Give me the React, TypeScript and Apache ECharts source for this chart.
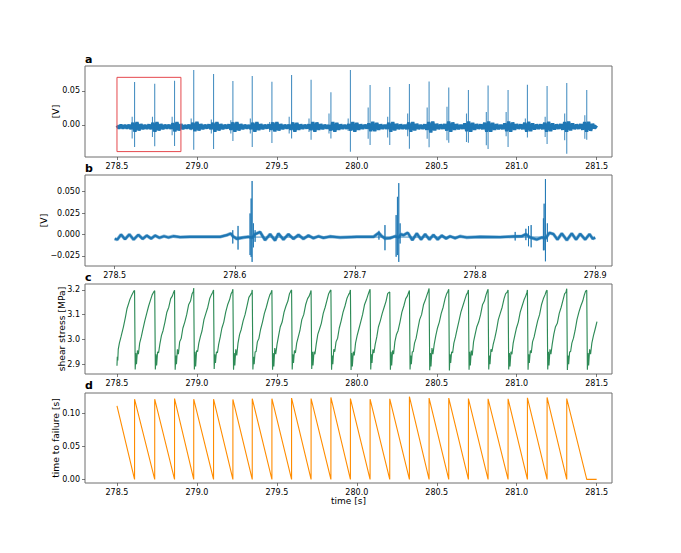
import React, { useEffect, useRef } from "react";
import * as echarts from "echarts";

const xTicksLong = [278.5, 279.0, 279.5, 280.0, 280.5, 281.0, 281.5];
const xTicksShort = [278.5, 278.6, 278.7, 278.8, 278.9];
const yTicksA = [0, 0.05];
const yTicksB = [-0.025, 0, 0.025, 0.05];
const yTicksC = [2.9, 3.0, 3.1, 3.2];
const yTicksD = [0, 0.05, 0.1];

// failure events (all times in seconds)
const eventTimes = [278.61, 278.736, 278.86, 278.98, 279.104, 279.225, 279.346, 279.469, 279.592, 279.714, 279.838, 279.96, 280.083, 280.206, 280.329, 280.452, 280.575, 280.698, 280.821, 280.946, 281.067, 281.19, 281.313, 281.438];

// panel a: acoustic signal
const aPeakHigh = [0.0627, 0.0603, 0.0647, 0.0804, 0.0745, 0.0642, 0.0716, 0.0632, 0.073, 0.0662, 0.048, 0.0804, 0.0583, 0.0554, 0.0598, 0.0637, 0.0549, 0.051, 0.0578, 0.051, 0.0588, 0.0569, 0.0613, 0.051];
const aPeakLow = [-0.0324, -0.0314, -0.0309, -0.0363, -0.0353, -0.0235, -0.0324, -0.0265, -0.02, -0.0216, -0.02, -0.0392, -0.0294, -0.0294, -0.0348, -0.0328, -0.026, -0.026, -0.0353, -0.0324, -0.0186, -0.028, -0.0422, -0.0216];
const aPreHigh = [0.0118, 0.0118, 0.0118, 0.0093, 0.0078, 0.0069, 0.0093, 0.0044, 0.0118, 0.0093, 0.0167, 0.0093, 0.0255, 0.0118, 0.0167, 0.0255, 0.0265, 0.0167, 0.0191, 0.0191, 0.0093, 0.0118, 0.0167, 0.0142];
const aPreLow = [-0.02, -0.0176, -0.0152, -0.0078, -0.0127, -0.0127, -0.0127, -0.0103, -0.0127, -0.0103, -0.0127, -0.0088, -0.0201, -0.0186, -0.0167, -0.0201, -0.0225, -0.0250, -0.0299, -0.0167, -0.0078, -0.0176, -0.0225, -0.0201];
const aPreLead = [0.015, 0.014, 0.015, 0.016, 0.014, 0.013, 0.012, 0.014, 0.015, 0.013, 0.012, 0.014, 0.012, 0.013, 0.011, 0.012, 0.011, 0.012, 0.011, 0.012, 0.013, 0.012, 0.013, 0.012];
const signalStart = 278.5;
const signalStep = 0.0125;
const aSignalMilliVolt = [
  -1, -5, 0, -5, -0.5, -5, 0, -6, 3, -10,
  4, -8, 1, -6, 0, -5.5, 0.5, -6, 3, -10,
  4, -8, 1, -6, 0, -5, 0, -5.5, 2.5, -9.5,
  4, -8, 1, -6, -0.5, -5, 0, -6, 3, -9,
  4.5, -8, 1, -6, 0, -5, 0.5, -6, 3, -10,
  4, -8, 1, -6, 0, -5, 0.5, -7, 3.5, -10,
  4, -8, 1, -6, 0, -5, -0.5, -6, 3, -10,
  4, -7.5, 1, -6, 0, -5, 0.5, -7, 3.5, -9.5,
  4, -8, 1, -6, 0, -5, 0, -7, 3.5, -10,
  3, -7, 0.5, -5.5, 0, -5, 0.5, -7.5, 4, -10,
  3.5, -7, 1, -6, 0, -5, -0.5, -8, 4, -10,
  3, -7, 0.5, -5.5, 0, -5.5, 1, -8, 4, -10,
  3, -7, 0.5, -5.5, 0, -5, 2, -9, 4.5, -9,
  3, -7, 0.5, -5.5, 0, -5.5, 3, -10, 4, -8,
  1.5, -6, 0.5, -5.5, 0, -6, 3.5, -10, 4, -8,
  1.5, -6, 0, -5.5, 0.5, -7, 4, -11, 5, -8,
  1.5, -6, 0.5, -5.5, 1, -8, 5, -10, 3.5, -7,
  1, -6, 0, -5.5, 2, -9, 5, -10, 3, -7,
  1, -5.5, 0.5, -6, 3, -10, 5, -10, 3, -7,
  1, -6, 0, -6, 2, -9, 5, -10, 3.5, -7,
  1, -5.5, 0.5, -6, 3, -10, 4.5, -9, 2, -6.5,
  0.5, -5.5, 0.5, -6, 3, -10, 4.5, -9, 2, -6.5,
  0.5, -5.5, 1, -7, 4, -10, 5, -8, 2, -6,
  0.5, -5.5, 1, -7, 4, -10, 4.5, -8.5, 1.5, -5,
  -1,
];
const boxTimes = [278.5, 278.9, 278.9, 278.5, 278.5];
const boxValues = [0.0697, 0.0697, -0.0391, -0.0391, 0.0697];

// panel b: close-up of the signal
const bTimes = [278.5, 278.5022, 278.5053, 278.5086, 278.5122, 278.5158, 278.5197, 278.5233, 278.5267, 278.5303, 278.5336, 278.5372, 278.5411, 278.5447, 278.5489, 278.5544, 278.5627, 278.5766, 278.5877, 278.5933, 278.5966, 278.5983, 278.6016, 278.6072, 278.6113, 278.6144, 278.6169, 278.621, 278.6252, 278.6294, 278.6335, 278.6363, 278.6405, 278.6446, 278.6488, 278.653, 278.6571, 278.6613, 278.6655, 278.6696, 278.6738, 278.6793, 278.6877, 278.7016, 278.7154, 278.7198, 278.7223, 278.7251, 278.7292, 278.7334, 278.7365, 278.7384, 278.7403, 278.744, 278.7478, 278.7515, 278.7551, 278.7584, 278.762, 278.7653, 278.7689, 278.7723, 278.7759, 278.7792, 278.7834, 278.7875, 278.7931, 278.8042, 278.8209, 278.832, 278.8389, 278.8422, 278.8458, 278.8514, 278.8556, 278.8586, 278.8619, 278.8653, 278.8686, 278.8722, 278.8764, 278.8805, 278.8841, 278.8875, 278.8917, 278.8953, 278.898, 278.9];
const bValues = [-0.005, -0.0059, -0.0001, -0.0055, 0.0001, -0.0059, -0.0004, -0.0051, -0.0012, -0.0047, -0.0012, -0.0039, -0.002, -0.0035, -0.002, -0.0031, -0.0027, -0.0027, -0.0027, -0.0008, 0.0012, -0.002, -0.0051, -0.0035, -0.0027, -0.0039, 0.0004, 0.003, -0.0066, 0.0004, -0.007, 0.0012, -0.0059, 0.0004, -0.0051, -0.0004, -0.0051, -0.0012, -0.0043, -0.002, -0.0039, -0.0023, -0.0035, -0.0027, -0.0027, 0.002, -0.002, -0.0047, -0.0043, -0.002, -0.0035, 0.0004, -0.0008, 0.002, -0.0066, 0.0012, -0.0059, 0.0004, -0.0059, -0.0004, -0.0059, -0.0012, -0.0047, -0.002, -0.0043, -0.002, -0.0035, -0.0027, -0.0031, -0.0023, -0.002, 0.0004, -0.0035, -0.0059, -0.0035, -0.0047, 0.002, 0.0004, -0.0059, 0.0012, -0.0066, 0.0012, -0.0059, 0.0008, -0.0059, 0.0004, -0.0051, -0.0035];
const bSpikeTimes = [278.5983, 278.6027, 278.6127, 278.6136, 278.6144, 278.6155, 278.6169, 278.72, 278.725, 278.7343, 278.7354, 278.7365, 278.7376, 278.8334, 278.8423, 278.8445, 278.8467, 278.8569, 278.8575, 278.8586, 278.8602];
const bSpikeHigh = [0.005, 0.01, 0.0246, 0.042, 0.0625, 0.013, 0.005, 0.0043, 0.011, 0.0227, 0.044, 0.06, 0.013, 0.003, 0.0067, 0.0098, 0.011, 0.0188, 0.036, 0.0648, 0.013];
const bSpikeLow = [-0.0105, -0.0176, -0.024, -0.0262, -0.032, -0.015, -0.0086, -0.006, -0.0184, -0.026, -0.024, -0.032, -0.0105, -0.007, -0.0066, -0.0137, -0.015, -0.0184, -0.0184, -0.0313, -0.0086];
const bBaseline = -0.003;

// panel c: shear stress
const cFirstTimes = [278.5, 278.502, 278.505, 278.508, 278.515, 278.525, 278.54, 278.553, 278.563, 278.58, 278.59, 278.605];
const cFirstValues = [2.893, 2.93, 2.915, 2.96, 2.985, 3.01, 3.05, 3.09, 3.125, 3.16, 3.175, 3.195];
const cOffsets = [0.004, 0.008, 0.012, 0.018, 0.024, 0.032, 0.042, 0.052, 0.064, 0.076, 0.088, 0.1, 0.11, 0.118];
const cPeaks = [3.198, 3.197, 3.199, 3.208, 3.2, 3.203, 3.2, 3.199, 3.2, 3.198, 3.2, 3.2, 3.203, 3.192, 3.198, 3.206, 3.203, 3.2, 3.203, 3.2, 3.2, 3.199, 3.205, 3.199];
const cCycles = [
  [2.878, 2.945, 2.9, 2.955, 2.94, 2.985, 3.01, 3.04, 3.075, 3.105, 3.135, 3.16, 3.18, 3.19],
  [2.878, 2.94, 2.895, 2.95, 2.945, 2.98, 3.015, 3.035, 3.07, 3.11, 3.13, 3.165, 3.175, 3.19],
  [2.877, 2.935, 2.9, 2.96, 2.94, 2.99, 3.005, 3.045, 3.07, 3.1, 3.14, 3.155, 3.185, 3.195],
  [2.878, 2.95, 2.89, 2.955, 2.95, 2.985, 3.012, 3.035, 3.08, 3.105, 3.13, 3.165, 3.18, 3.19],
  [2.88, 2.94, 2.905, 2.95, 2.945, 2.98, 3.01, 3.045, 3.07, 3.11, 3.14, 3.16, 3.185, 3.195],
  [2.877, 2.945, 2.895, 2.96, 2.935, 2.985, 3.02, 3.04, 3.075, 3.1, 3.135, 3.17, 3.18, 3.19],
  [2.878, 2.93, 2.9, 2.95, 2.95, 2.99, 3.005, 3.04, 3.07, 3.105, 3.13, 3.16, 3.18, 3.19],
  [2.877, 2.945, 2.89, 2.965, 2.94, 2.98, 3.015, 3.05, 3.07, 3.11, 3.135, 3.155, 3.185, 3.195],
  [2.878, 2.94, 2.905, 2.955, 2.945, 2.985, 3.01, 3.035, 3.08, 3.1, 3.14, 3.165, 3.175, 3.19],
  [2.88, 2.95, 2.895, 2.95, 2.94, 2.98, 3.02, 3.04, 3.065, 3.105, 3.13, 3.16, 3.185, 3.195],
  [2.877, 2.935, 2.9, 2.96, 2.95, 2.99, 3.005, 3.045, 3.075, 3.11, 3.135, 3.165, 3.18, 3.19],
  [2.876, 2.945, 2.89, 2.95, 2.935, 2.985, 3.015, 3.04, 3.07, 3.1, 3.14, 3.16, 3.18, 3.195],
  [2.878, 2.94, 2.905, 2.96, 2.945, 2.98, 3.01, 3.05, 3.075, 3.105, 3.13, 3.155, 3.185, 3.19],
  [2.877, 2.95, 2.895, 2.955, 2.94, 2.99, 3.02, 3.035, 3.07, 3.11, 3.135, 3.165, 3.175, 3.19],
  [2.878, 2.935, 2.9, 2.95, 2.95, 2.985, 3.005, 3.04, 3.08, 3.1, 3.14, 3.16, 3.18, 3.195],
  [2.875, 2.945, 2.89, 2.965, 2.94, 2.98, 3.015, 3.045, 3.07, 3.105, 3.13, 3.165, 3.185, 3.195],
  [2.874, 2.94, 2.905, 2.95, 2.945, 2.985, 3.01, 3.04, 3.075, 3.11, 3.135, 3.16, 3.18, 3.19],
  [2.877, 2.95, 2.895, 2.955, 2.935, 2.99, 3.02, 3.05, 3.07, 3.1, 3.14, 3.155, 3.18, 3.195],
  [2.878, 2.935, 2.9, 2.96, 2.95, 2.98, 3.005, 3.035, 3.08, 3.105, 3.13, 3.165, 3.185, 3.19],
  [2.878, 2.945, 2.89, 2.95, 2.94, 2.985, 3.015, 3.045, 3.07, 3.11, 3.135, 3.16, 3.175, 3.19],
  [2.877, 2.94, 2.905, 2.955, 2.945, 2.99, 3.01, 3.04, 3.075, 3.1, 3.14, 3.165, 3.18, 3.195],
  [2.878, 2.95, 2.895, 2.96, 2.94, 2.98, 3.02, 3.05, 3.065, 3.105, 3.13, 3.16, 3.185, 3.19],
  [2.876, 2.935, 2.9, 2.95, 2.95, 2.985, 3.005, 3.035, 3.08, 3.11, 3.135, 3.155, 3.18, 3.195],
];
const cLastCycle = [2.877, 2.945, 2.895, 2.96, 2.94, 2.985, 3.015, 3.04, 3.072];

// panel d: time to failure
const dStartTime = 278.5;
const dStartValue = 0.112;
const dRestart = [0.122, 0.122, 0.123, 0.122, 0.122, 0.1217, 0.1227, 0.1227, 0.1237, 0.123, 0.1247, 0.123, 0.122, 0.1225, 0.1257, 0.1237, 0.1237, 0.123, 0.1225, 0.1225, 0.124, 0.1247, 0.123];
const dEndTime = 281.5;

const FONT = "'DejaVu Sans', sans-serif";
const GRIDS = [
  { top: 66, height: 91 },
  { top: 175, height: 91 },
  { top: 284, height: 90 },
  { top: 393, height: 90 },
];

function spikes(times: number[], high: number[], low: number[], base: (i: number) => number) {
  const out: number[][] = [];
  times.forEach((t, i) => {
    out.push([t, base(i)], [t, high[i]], [t, low[i]], [t, base(i)]);
  });
  return out;
}

function axisX(idx: number, min: number, max: number, ticks: number[], name?: string) {
  return {
    type: "value",
    gridIndex: idx,
    min,
    max,
    name,
    nameLocation: "middle",
    nameMoveOverlap: false,
    nameGap: 13,
    nameTextStyle: { fontSize: 9, fontFamily: FONT, color: "#000" },
    splitLine: { show: false },
    axisLine: { show: false, onZero: false },
    axisTick: { show: true, length: 3, customValues: ticks, lineStyle: { color: "#444", width: 0.7 } },
    axisLabel: {
      show: true,
      customValues: ticks,
      fontSize: 8,
      margin: 5,
      color: "#000",
      fontFamily: FONT,
      formatter: (v: number) => v.toFixed(1),
    },
  };
}

function axisY(idx: number, min: number, max: number, ticks: number[], digits: number, name: string, gap: number) {
  return {
    type: "value",
    gridIndex: idx,
    min,
    max,
    name,
    nameLocation: "middle",
    nameMoveOverlap: false,
    nameGap: gap,
    nameRotate: 90,
    nameTextStyle: { fontSize: 9.2, fontFamily: FONT, color: "#000" },
    splitLine: { show: false },
    axisLine: { show: false, onZero: false },
    axisTick: { show: true, length: 3, customValues: ticks, lineStyle: { color: "#444", width: 0.7 } },
    axisLabel: {
      show: true,
      customValues: ticks,
      fontSize: 8,
      margin: 5,
      color: "#000",
      fontFamily: FONT,
      formatter: (v: number) => v.toFixed(digits).replace("-", "\u2212"),
    },
  };
}

function line(idx: number, data: (number | null)[][], color: string, width: number, opacity = 1) {
  return {
    type: "line",
    xAxisIndex: idx,
    yAxisIndex: idx,
    data,
    showSymbol: false,
    symbol: "none",
    silent: true,
    lineStyle: { color, width, join: "bevel", opacity },
  };
}

function buildOption() {
  const aBand = aSignalMilliVolt.map((v, i) => [signalStart + i * signalStep, v / 1000]);
  const aPre = spikes(eventTimes.map((t, i) => t - aPreLead[i]), aPreHigh, aPreLow, () => -0.0025);
  const aMain = spikes(eventTimes, aPeakHigh, aPeakLow, () => -0.0025);
  const aSpikes: number[][] = [...aPre, ...aMain].sort((p, q) => p[0] - q[0]);

  const bBand = bTimes.map((t, i) => [t, bValues[i]]);
  const bSpikes = spikes(bSpikeTimes, bSpikeHigh, bSpikeLow, () => bBaseline);

  const cData: number[][] = cFirstTimes.map((t, i) => [t, cFirstValues[i]]);
  eventTimes.forEach((t, i) => {
    cData.push([t, cPeaks[i]]);
    const row = i < cCycles.length ? cCycles[i] : cLastCycle;
    row.forEach((v, j) => cData.push([t + cOffsets[j], v]));
  });

  const dData: number[][] = [[dStartTime, dStartValue]];
  eventTimes.forEach((t, i) => {
    dData.push([t, 0]);
    dData.push(i < dRestart.length ? [t, dRestart[i]] : [dEndTime, 0]);
  });

  const letters = [
    { t: "a", y: 59 },
    { t: "b", y: 168 },
    { t: "c", y: 277 },
    { t: "d", y: 385 },
  ];

  return {
    animation: false,
    backgroundColor: "#fff",
    grid: GRIDS.map((g) => ({
      left: 85,
      width: 527,
      top: g.top,
      height: g.height,
      show: true,
      borderColor: "#6e6e6e",
      borderWidth: 1,
      backgroundColor: "transparent",
    })),
    xAxis: [
      axisX(0, 278.3, 281.596, xTicksLong),
      axisX(1, 278.4753, 278.914, xTicksShort),
      axisX(2, 278.3, 281.596, xTicksLong),
      axisX(3, 278.3, 281.596, xTicksLong, "time [s]"),
    ],
    yAxis: [
      axisY(0, -0.047, 0.0863, yTicksA, 2, "[V]", 25),
      axisY(1, -0.0368, 0.0695, yTicksB, 3, "[V]", 37),
      axisY(2, 2.86, 3.224, yTicksC, 1, "shear stress [MPa]", 19),
      axisY(3, -0.0055, 0.1314, yTicksD, 2, "time to failure [s]", 25),
    ],
    series: [
      line(0, aBand, "#1f77b4", 3.3),
      line(0, aSpikes, "#1f77b4", 1.1, 0.8),
      line(0, boxTimes.map((t, i) => [t, boxValues[i]]), "#e5484d", 1),
      line(1, bBand, "#1f77b4", 3.4, 0.5),
      line(1, bBand, "#1f77b4", 2.2),
      line(1, bSpikes, "#1f77b4", 1, 0.85),
      line(2, cData, "#2e8b57", 1.15),
      line(3, dData, "#ff8c00", 1.1),
    ],
    graphic: letters.map((l) => ({
      type: "text",
      x: 85,
      y: l.y,
      style: {
        text: l.t,
        fontSize: 11,
        fontWeight: "bold",
        fontFamily: FONT,
        fill: "#000",
        textVerticalAlign: "middle",
      },
    })),
  };
}

export default function App() {
  const ref = useRef<HTMLDivElement>(null);
  useEffect(() => {
    const chart = echarts.init(ref.current!, undefined, { renderer: "svg" });
    chart.setOption(buildOption() as any);
    return () => chart.dispose();
  }, []);
  return <div ref={ref} style={{ position: "fixed", left: 0, top: 0, width: 681, height: 553 }} />;
}
